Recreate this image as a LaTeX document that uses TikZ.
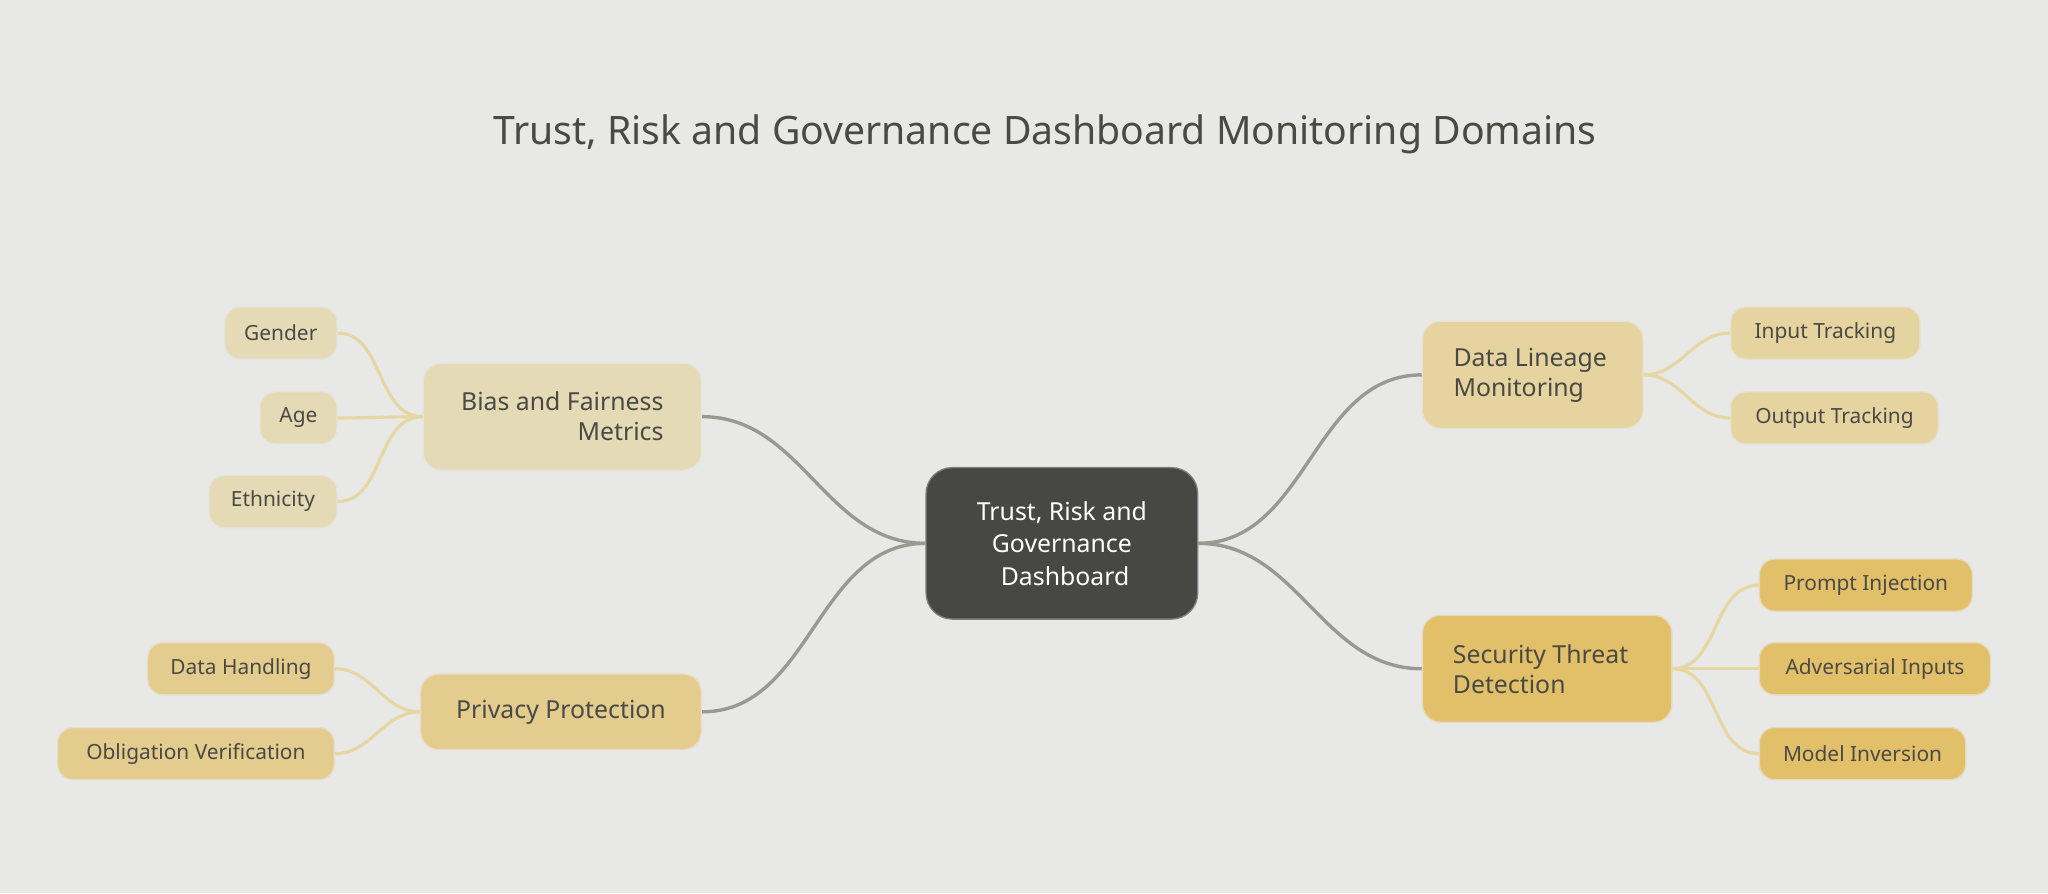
\documentclass[tikz,border=0pt]{standalone}
\usepackage{fontspec}
\setmainfont{Noto Sans}
\definecolor{bg}{HTML}{E8E8E6}
\definecolor{dark}{HTML}{474843}
\definecolor{txt}{HTML}{4A4A45}
\definecolor{pale}{HTML}{E5DAB6}
\definecolor{mid}{HTML}{E3CC8E}
\definecolor{lin}{HTML}{E5D3A0}
\definecolor{gold}{HTML}{E2C06A}
\definecolor{leafline}{HTML}{E6D6A2}
\definecolor{trunk}{HTML}{999893}
\begin{document}
\begin{tikzpicture}[x=1pt,y=-1pt,
  box/.style={rounded corners=14pt,draw=#1!85!black!40!white,line width=1pt,fill=#1,text=txt,font=\fontsize{19}{23}\selectfont\bfseries,inner sep=0pt},
  leaf/.style={rounded corners=12pt,draw=#1!85!black!40!white,line width=1pt,fill=#1,text=txt,font=\fontsize{16}{19}\selectfont\bfseries,minimum height=40pt,inner sep=0pt},
  trunkl/.style={draw=trunk,line width=2.6pt},
  branch/.style={draw=leafline,line width=2.4pt}]
\fill[bg] (0,0) rectangle (1568,684);
\useasboundingbox (0,0) rectangle (1568,684);
\node[font=\fontsize{30}{36}\selectfont\bfseries,text=txt] (title) at (800,103) {Trust, Risk and Governance Dashboard Monitoring Domains};
\node[rounded corners=20pt,draw=gray,line width=1pt,fill=dark,text=white,minimum width=208pt,minimum height=116pt,align=center,font=\fontsize{19}{25}\selectfont\bfseries] (c) at (813,416) {Trust, Risk and\\Governance\\\ Dashboard};
\node[box=pale,minimum width=213pt,minimum height=82pt,align=right] (bias) at (430.5,319) {Bias and Fairness\ \\Metrics};
\node[box=mid,minimum width=215pt,minimum height=58pt] (priv) at (429.5,545) {Privacy Protection};
\node[box=lin,minimum width=169pt,minimum height=82pt,align=left] (lin) at (1173.5,287) {Data Lineage\\Monitoring\phantom{ee}};
\node[box=gold,minimum width=191pt,minimum height=82pt,align=left] (sec) at (1184.5,512) {Security Threat\\Detection\phantom{Threat}};
\node[leaf=pale,minimum width=86pt] (g) at (215,255) {Gender};
\node[leaf=pale,minimum width=59pt] (a) at (228.5,320) {Age};
\node[leaf=pale,minimum width=98pt] (e) at (209,384) {Ethnicity};
\node[leaf=mid,minimum width=143pt] (dh) at (184.5,512) {Data Handling};
\node[leaf=mid,minimum width=212pt] (ov) at (150,577) {Obligation Verification};
\node[leaf=lin,minimum width=145pt] (it) at (1397.5,255) {Input Tracking};
\node[leaf=lin,minimum width=159pt] (ot) at (1404.5,320) {Output Tracking};
\node[leaf=gold,minimum width=163pt] (pi) at (1428.5,448) {Prompt Injection};
\node[leaf=gold,minimum width=177pt] (ai) at (1435.5,512) {Adversarial Inputs};
\node[leaf=gold,minimum width=158pt] (mi) at (1426,577) {Model Inversion};
\begin{scope}[on background layer/.style={}]
\end{scope}
\draw[trunkl] (c.west) to[out=180,in=0] (bias.east);
\draw[trunkl] (c.west) to[out=180,in=0] (priv.east);
\draw[trunkl] (c.east) to[out=0,in=180] (lin.west);
\draw[trunkl] (c.east) to[out=0,in=180] (sec.west);
\foreach \n in {g,a,e} \draw[branch] (bias.west) to[out=180,in=0] (\n.east);
\foreach \n in {dh,ov} \draw[branch] (priv.west) to[out=180,in=0] (\n.east);
\foreach \n in {it,ot} \draw[branch] (lin.east) to[out=0,in=180] (\n.west);
\foreach \n in {pi,ai,mi} \draw[branch] (sec.east) to[out=0,in=180] (\n.west);
\end{tikzpicture}
\end{document}
